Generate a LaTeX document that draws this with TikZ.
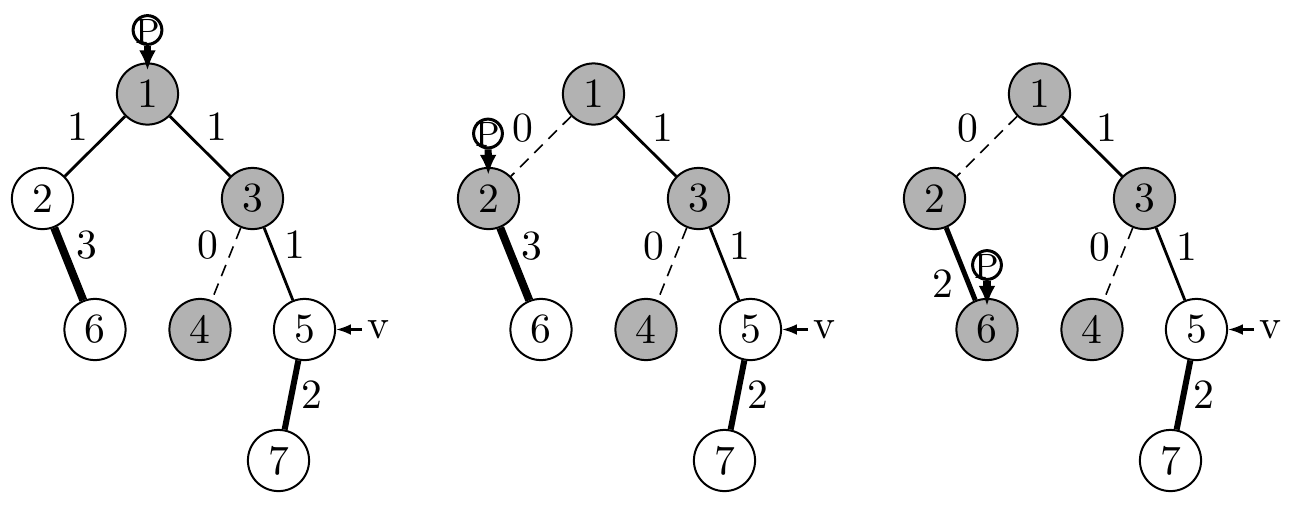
\documentclass[tikz,border=0pt]{standalone}
\usetikzlibrary{arrows.meta}
\begin{document}
\begin{tikzpicture}[x=0.25pt,y=-0.25pt,
  font=\fontsize{10.4}{12}\selectfont,
  vtx/.style={circle,draw,line width=0.5pt,minimum size=15.3pt,inner sep=0pt},
  grayv/.style={vtx,fill=black!30},
  whitev/.style={vtx,fill=white},
  edgen/.style={line width=0.7pt},
  edged/.style={line width=0.4pt,dash pattern=on 3pt off 2pt},
  edgeheavy/.style={line width=2pt},
  edgemid/.style={line width=1.5pt},
  edgelight/.style={line width=1.25pt},
  pmark/.style={circle,draw,line width=0.75pt,minimum size=7.2pt,inner sep=0pt},
  parrow/.style={line width=1.8pt,-{Latex[length=5pt,width=4.2pt]},shorten >=-2pt},
  varrow/.style={line width=0.55pt,-{Latex[length=3.7pt,width=2.7pt]}},
  vlbl/.style={inner sep=1pt},
  lbl/.style={inner sep=0pt}]
\newcommand{\ptext}{\raisebox{-3.3pt}[0pt][0pt]{\makebox[0pt]{\fontsize{8.8}{10}\selectfont P}}}
\useasboundingbox (0,0) rectangle (1289,517);

% ---------- Tree 1 ----------
\node[grayv]  (a1) at (147.5,94) {1};
\node[whitev] (a2) at (42.5,198.5) {2};
\node[grayv]  (a3) at (252.5,198.5) {3};
\node[whitev] (a6) at (95,329.5) {6};
\node[grayv]  (a4) at (200,329.5) {4};
\node[whitev] (a5) at (304.5,329.5) {5};
\node[whitev] (a7) at (278.5,460.5) {7};
\draw[edgen] (a1) -- (a2);
\draw[edgen] (a1) -- (a3);
\draw[edgen] (a3) -- (a5);
\draw[edgeheavy] (a2) -- (a6);
\draw[edged] (a3) -- (a4);
\draw[edgemid] (a5) -- (a7);
\node[lbl] (al12) at (78,127) {1};
\node[lbl] (al13) at (217,127) {1};
\node[lbl] (al26) at (87,245) {3};
\node[lbl] (al34) at (208,245) {0};
\node[lbl] (al35) at (295,245) {1};
\node[lbl] (al57) at (311.5,395) {2};
\node[pmark] (ap) at (147.5,30) {\ptext};
\draw[parrow] (ap) -- (a1);
\node[vlbl] (av) at (378,329.5) {v};
\draw[varrow] (av) -- (a5);

% ---------- Tree 2 ----------
\begin{scope}[shift={(446,0)}]
\node[grayv]  (b1) at (147.5,94) {1};
\node[grayv]  (b2) at (42.5,198.5) {2};
\node[grayv]  (b3) at (252.5,198.5) {3};
\node[whitev] (b6) at (95,329.5) {6};
\node[grayv]  (b4) at (200,329.5) {4};
\node[whitev] (b5) at (304.5,329.5) {5};
\node[whitev] (b7) at (278.5,460.5) {7};
\draw[edged] (b1) -- (b2);
\draw[edgen] (b1) -- (b3);
\draw[edgen] (b3) -- (b5);
\draw[edgeheavy] (b2) -- (b6);
\draw[edged] (b3) -- (b4);
\draw[edgemid] (b5) -- (b7);
\node[lbl] (bl12) at (77,128) {0};
\node[lbl] (bl13) at (217,128) {1};
\node[lbl] (bl26) at (86,246) {3};
\node[lbl] (bl34) at (208,246) {0};
\node[lbl] (bl35) at (294,246) {1};
\node[lbl] (bl57) at (311.5,395) {2};
\node[pmark] (bp) at (42,133.5) {\ptext};
\draw[parrow] (bp) -- (b2);
\node[vlbl] (bv) at (378,329.5) {v};
\draw[varrow] (bv) -- (b5);
\end{scope}

% ---------- Tree 3 ----------
\begin{scope}[shift={(892,0)}]
\node[grayv]  (c1) at (147.5,94) {1};
\node[grayv]  (c2) at (42.5,198.5) {2};
\node[grayv]  (c3) at (252.5,198.5) {3};
\node[grayv]  (c6) at (95,329.5) {6};
\node[grayv]  (c4) at (200,329.5) {4};
\node[whitev] (c5) at (304.5,329.5) {5};
\node[whitev] (c7) at (278.5,460.5) {7};
\draw[edged] (c1) -- (c2);
\draw[edgen] (c1) -- (c3);
\draw[edgen] (c3) -- (c5);
\draw[edgelight] (c2) -- (c6);
\draw[edged] (c3) -- (c4);
\draw[edgemid] (c5) -- (c7);
\node[lbl] (cl12) at (76,128) {0};
\node[lbl] (cl13) at (215,128) {1};
\node[lbl] (cl26) at (51,284) {2};
\node[lbl] (cl34) at (208,247) {0};
\node[lbl] (cl35) at (295,247) {1};
\node[lbl] (cl57) at (311.5,395) {2};
\node[pmark] (cp) at (95,265) {\ptext};
\draw[parrow] (cp) -- (c6);
\node[vlbl] (cv) at (378,329.5) {v};
\draw[varrow] (cv) -- (c5);
\end{scope}
\end{tikzpicture}
\end{document}
